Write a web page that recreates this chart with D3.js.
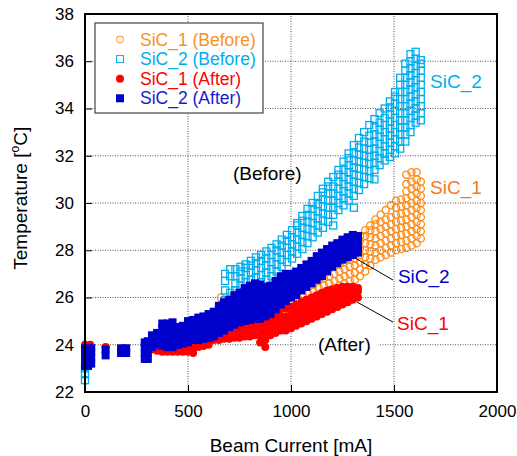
<!DOCTYPE html>
<html>
<head>
<meta charset="utf-8">
<script src="https://cdn.jsdelivr.net/npm/d3@7"></script>
<style>
  body { margin: 0; background: #fff; }
  text { font-family: "Liberation Sans", Arial, sans-serif; }
</style>
</head>
<body>
<div id="chart"></div>
<script>
// beam current [mA] columns and temperatures [degC]
const sic1BeforeI = [0, 660, 685, 710, 735, 760, 785, 810, 835, 860, 885, 910, 935, 960, 985, 1010, 1035, 1060, 1085, 1110, 1135, 1160, 1185, 1210, 1235, 1260, 1285, 1310, 1335, 1360, 1385, 1410, 1435, 1460, 1485, 1510, 1535, 1560, 1585, 1610, 1630];
const sic1BeforeT = [
  [23.2, 23.9],
  [25.0, 25.4, 25.7, 26.0],
  [24.9, 25.2, 25.5, 25.8],
  [24.9, 25.2, 25.5, 25.8, 26.0],
  [25.0, 25.3, 25.6, 25.9],
  [25.05, 25.35, 25.65, 25.95],
  [25.1, 25.4, 25.7, 26.0],
  [25.15, 25.45, 25.75, 26.0],
  [25.2, 25.5, 25.8, 26.1],
  [25.2, 25.5, 25.8, 26.15],
  [25.25, 25.55, 25.85, 26.2],
  [25.3, 25.6, 25.9, 26.3],
  [25.35, 25.65, 25.95, 26.3, 26.55],
  [25.4, 25.7, 26.0, 26.3, 26.6],
  [25.45, 25.75, 26.05, 26.35, 26.7],
  [25.55, 25.85, 26.15, 26.45, 26.8],
  [25.65, 25.95, 26.25, 26.55, 26.9],
  [25.75, 26.05, 26.35, 26.65, 26.95],
  [25.85, 26.15, 26.45, 26.75, 27.05],
  [25.95, 26.25, 26.55, 26.85, 27.2],
  [26.1, 26.4, 26.7, 27.0, 27.4],
  [26.2, 26.5, 26.8, 27.1, 27.5],
  [26.3, 26.6, 26.9, 27.2, 27.5, 27.7],
  [26.4, 26.7, 27.0, 27.3, 27.6, 27.9],
  [26.5, 26.8, 27.1, 27.4, 27.7, 28.0],
  [26.6, 26.9, 27.2, 27.5, 27.8, 28.1],
  [26.7, 27.0, 27.3, 27.6, 27.9, 28.3],
  [26.75, 27.05, 27.35, 27.65, 27.95, 28.25, 28.5],
  [26.9, 27.2, 27.5, 27.8, 28.1, 28.4, 28.6],
  [27.1, 27.4, 27.7, 28.0, 28.3, 28.6, 28.85],
  [27.35, 27.65, 27.95, 28.25, 28.55, 28.85, 29.05],
  [27.6, 27.9, 28.2, 28.5, 28.8, 29.1, 29.3],
  [27.7, 28.0, 28.3, 28.6, 28.9, 29.2, 29.5],
  [27.8, 28.1, 28.4, 28.7, 29.0, 29.3, 29.7],
  [27.9, 28.2, 28.5, 28.8, 29.1, 29.4, 29.9],
  [28.0, 28.3, 28.6, 28.9, 29.2, 29.5, 29.8, 30.1],
  [28.05, 28.35, 28.65, 28.95, 29.25, 29.55, 29.85, 30.15],
  [28.1, 28.4, 28.7, 29.0, 29.3, 29.6, 29.9, 30.2, 30.5, 30.8, 31.2],
  [28.2, 28.5, 28.8, 29.1, 29.4, 29.7, 30.0, 30.3, 30.6, 30.9, 31.3],
  [28.3, 28.6, 28.9, 29.2, 29.5, 29.8, 30.1, 30.4, 30.7, 31.0, 31.3],
  [28.5, 28.8, 29.1, 29.4, 29.7, 30.0, 30.3, 30.6, 30.9]
];

const sic2BeforeI = [0, 680, 705, 730, 755, 780, 805, 830, 855, 880, 905, 930, 955, 980, 1005, 1030, 1055, 1080, 1105, 1130, 1155, 1180, 1205, 1230, 1255, 1280, 1305, 1330, 1355, 1380, 1405, 1430, 1455, 1480, 1505, 1530, 1555, 1580, 1605, 1630];
const sic2BeforeT = [
  [22.5, 22.75, 23.0],
  [25.9, 26.3, 26.7, 27.0],
  [25.9, 26.2, 26.9, 27.2],
  [26.0, 26.3, 26.6, 26.9, 27.2],
  [26.2, 26.5, 26.8, 27.1, 27.3],
  [26.35, 26.65, 26.95, 27.25, 27.4],
  [26.45, 26.75, 27.05, 27.35, 27.55],
  [26.55, 26.85, 27.15, 27.45, 27.7],
  [26.65, 26.95, 27.25, 27.55, 27.8],
  [26.75, 27.05, 27.35, 27.65, 27.95],
  [26.9, 27.2, 27.5, 27.8, 28.1],
  [27.1, 27.4, 27.7, 28.0, 28.25],
  [27.3, 27.6, 27.9, 28.2, 28.45],
  [27.5, 27.8, 28.1, 28.4, 28.65],
  [27.65, 27.95, 28.25, 28.55, 28.85],
  [27.85, 28.15, 28.45, 28.75, 29.05, 29.15],
  [28.05, 28.35, 28.65, 28.95, 29.25, 29.45],
  [28.3, 28.6, 28.9, 29.2, 29.5, 29.75],
  [28.55, 28.85, 29.15, 29.45, 29.75, 30.0],
  [28.75, 29.05, 29.35, 29.65, 29.95, 30.3],
  [28.95, 29.25, 29.55, 29.85, 30.15, 30.45, 30.6],
  [29.2, 29.5, 29.8, 30.1, 30.4, 30.7, 30.9],
  [29.05, 29.5, 29.8, 30.1, 30.4, 30.7, 31.1],
  [29.7, 30.0, 30.3, 30.6, 30.9, 31.2, 31.4],
  [29.9, 30.2, 30.5, 30.8, 31.1, 31.4, 31.75],
  [30.1, 30.4, 30.7, 31.0, 31.3, 31.6, 31.9, 32.1],
  [29.8, 30.3, 30.6, 30.9, 31.2, 31.5, 31.8, 32.1, 32.45],
  [30.55, 30.85, 31.15, 31.45, 31.75, 32.05, 32.35, 32.75],
  [30.8, 31.1, 31.4, 31.7, 32.0, 32.3, 32.6, 33.0],
  [31.05, 31.35, 31.65, 31.95, 32.25, 32.55, 32.85, 33.3],
  [31.0, 31.4, 31.7, 32.0, 32.3, 32.6, 32.9, 33.2, 33.55],
  [31.6, 31.9, 32.2, 32.5, 32.8, 33.1, 33.4, 33.8],
  [31.8, 32.1, 32.4, 32.7, 33.0, 33.3, 33.6, 34.0],
  [31.95, 32.25, 32.55, 32.85, 33.15, 33.45, 33.75, 34.05, 34.3],
  [32.1, 32.4, 32.7, 33.0, 33.3, 33.6, 33.9, 34.2, 34.5, 34.7],
  [32.3, 32.6, 32.9, 33.2, 33.5, 33.8, 34.1, 34.4, 34.7, 35.0, 35.3],
  [32.6, 32.9, 33.2, 33.5, 33.8, 34.1, 34.4, 34.7, 35.0, 35.3, 35.6, 35.9],
  [33.0, 33.3, 33.6, 33.9, 34.2, 34.5, 34.8, 35.1, 35.4, 35.7, 36.0, 36.3],
  [33.4, 33.7, 34.0, 34.3, 34.6, 34.9, 35.2, 35.5, 35.8, 36.1, 36.4],
  [33.5, 33.8, 34.1, 34.4, 34.7, 35.0, 35.3, 35.6, 35.9, 36.05]
];

const sic1AfterI = [0, 25, 100, 300, 325, 350, 375, 400, 425, 450, 475, 500, 525, 550, 575, 600, 625, 650, 675, 700, 725, 750, 775, 800, 825, 850, 875, 900, 925, 950, 975, 1000, 1025, 1050, 1075, 1100, 1125, 1150, 1175, 1200, 1225, 1250, 1275, 1300, 1325];
const sic1AfterT = [
  [23.85, 24.0],
  [23.9, 24.0],
  [23.9],
  [23.8],
  [23.8],
  [23.75, 23.95],
  [23.7, 23.95, 24.1],
  [23.7, 23.95, 24.1],
  [23.7, 23.95, 24.1],
  [23.7, 23.95, 24.1],
  [23.7, 23.95, 24.1],
  [23.7, 23.95, 24.1],
  [23.65, 23.9],
  [23.9, 24.15],
  [23.95, 24.25],
  [24.0, 24.3],
  [24.2, 24.45],
  [24.2, 24.45, 24.65],
  [24.25, 24.5, 24.75],
  [24.25, 24.5, 24.8],
  [24.3, 24.55, 24.85],
  [24.3, 24.6, 24.9],
  [24.35, 24.65, 24.95],
  [24.35, 24.65, 24.95],
  [24.4, 24.7, 25.0],
  [24.1, 24.4, 24.7, 25.0],
  [23.9, 24.2, 24.5, 24.8, 25.0],
  [24.4, 24.7, 25.0, 25.3],
  [24.5, 24.8, 25.1, 25.4],
  [24.6, 24.9, 25.2, 25.5],
  [24.6, 24.9, 25.2, 25.55],
  [24.7, 25.0, 25.3, 25.6],
  [24.8, 25.1, 25.4, 25.7],
  [24.9, 25.2, 25.5, 25.8],
  [25.0, 25.3, 25.6, 25.9],
  [25.1, 25.4, 25.7, 26.0],
  [25.2, 25.5, 25.8, 26.1],
  [25.3, 25.6, 25.9, 26.2],
  [25.4, 25.7, 26.0, 26.3],
  [25.5, 25.8, 26.1, 26.35],
  [25.6, 25.9, 26.2, 26.4],
  [25.7, 26.0, 26.25, 26.45],
  [25.8, 26.05, 26.3, 26.45],
  [25.9, 26.1, 26.35, 26.45],
  [26.0, 26.25, 26.4]
];

const sic2AfterI = [0, 15, 30, 100, 175, 200, 290, 305, 325, 350, 375, 400, 425, 450, 475, 500, 525, 550, 575, 600, 625, 650, 675, 700, 725, 750, 775, 800, 825, 850, 875, 900, 925, 950, 975, 1000, 1025, 1050, 1075, 1100, 1125, 1150, 1175, 1200, 1225, 1250, 1275, 1300, 1325];
const sic2AfterT = [
  [23.1, 23.35, 23.6, 23.85],
  [23.1, 23.35, 23.6, 23.85],
  [23.2, 23.45, 23.7, 23.85],
  [23.55, 23.8],
  [23.65, 23.85],
  [23.65, 23.85],
  [23.4, 23.65, 23.9, 24.1],
  [23.4, 23.65, 23.9, 24.15],
  [23.9, 24.15, 24.4],
  [24.0, 24.25, 24.5],
  [23.95, 24.2, 24.45, 24.7, 24.9],
  [23.9, 24.15, 24.4, 24.65, 24.9],
  [23.9, 24.15, 24.4, 24.65, 24.95],
  [24.0, 24.25, 24.5, 24.75],
  [24.05, 24.3, 24.55, 24.8],
  [24.1, 24.35, 24.6, 24.85, 25.0],
  [24.2, 24.45, 24.7, 24.95, 25.05],
  [24.2, 24.45, 24.7, 24.95, 25.15],
  [24.25, 24.5, 24.75, 25.0, 25.2],
  [24.3, 24.55, 24.8, 25.05, 25.3],
  [24.35, 24.6, 24.85, 25.1, 25.4],
  [24.5, 24.75, 25.0, 25.25, 25.5, 25.65],
  [24.6, 24.85, 25.1, 25.35, 25.6, 25.8],
  [24.75, 25.0, 25.25, 25.5, 25.75, 25.9],
  [24.85, 25.1, 25.35, 25.6, 25.85, 26.1],
  [24.95, 25.2, 25.45, 25.7, 25.95, 26.2],
  [25.0, 25.25, 25.5, 25.75, 26.0, 26.25, 26.4],
  [25.05, 25.3, 25.55, 25.8, 26.05, 26.3, 26.5],
  [25.1, 25.35, 25.6, 25.85, 26.1, 26.35, 26.6],
  [25.1, 25.35, 25.6, 25.85, 26.1, 26.35, 26.55],
  [25.2, 25.45, 25.7, 25.95, 26.2, 26.45],
  [25.3, 25.55, 25.8, 26.05, 26.3, 26.5],
  [25.5, 25.75, 26.0, 26.25, 26.5, 26.7],
  [25.7, 25.95, 26.2, 26.45, 26.7, 26.9],
  [25.85, 26.1, 26.35, 26.6, 26.85, 27.0],
  [26.0, 26.25, 26.5, 26.75, 27.0],
  [26.1, 26.35, 26.6, 26.85, 27.1],
  [26.3, 26.55, 26.8, 27.05, 27.25],
  [26.45, 26.7, 26.95, 27.2, 27.4],
  [26.6, 26.85, 27.1, 27.35, 27.55],
  [26.75, 27.0, 27.25, 27.5, 27.75],
  [26.9, 27.15, 27.4, 27.65, 27.9],
  [27.1, 27.35, 27.6, 27.85, 28.05],
  [27.3, 27.55, 27.8, 28.05, 28.2],
  [27.45, 27.7, 27.95, 28.2, 28.3],
  [27.6, 27.85, 28.1, 28.35, 28.45],
  [27.7, 27.95, 28.2, 28.45, 28.55],
  [27.8, 28.05, 28.3, 28.55, 28.65],
  [27.9, 28.15, 28.4, 28.6]
];

const xTicks = [0, 500, 1000, 1500, 2000];
const yTicks = [22, 24, 26, 28, 30, 32, 34, 36, 38];

const seriesNames = ["SiC_1 (Before)", "SiC_2 (Before)", "SiC_1 (After)", "SiC_2 (After)"];
const seriesColors = ["#FF8C1A", "#00AEEF", "#FF0000", "#0000CC"];

document.addEventListener("DOMContentLoaded", setup);

function points(currents, temps) {
  return currents.flatMap((c, i) => temps[i].map(t => [c, t]));
}

function setup() {
  const width = 517, height = 456;
  const margin = {top: 14, right: 20, bottom: 64, left: 85};

  const svg = d3.select("#chart").append("svg")
      .attr("width", width)
      .attr("height", height);

  const x = d3.scaleLinear().domain([0, 2000]).range([margin.left, width - margin.right]);
  const y = d3.scaleLinear().domain([22, 38]).range([height - margin.bottom, margin.top]);

  // dotted grid
  const grid = svg.append("g");
  grid.selectAll("line.v")
      .data(xTicks.slice(1, -1))
      .enter().append("line")
      .attr("x1", d => x(d)).attr("x2", d => x(d))
      .attr("y1", y(22)).attr("y2", y(38))
      .attr("stroke", "#555").attr("stroke-dasharray", "1,1.5");
  grid.selectAll("line.h")
      .data(yTicks.slice(1, -1))
      .enter().append("line")
      .attr("x1", x(0)).attr("x2", x(2000))
      .attr("y1", d => y(d)).attr("y2", d => y(d))
      .attr("stroke", "#555").attr("stroke-dasharray", "1,1.5");

  // axes with inward ticks
  svg.append("g")
      .attr("transform", `translate(0,${y(22)})`)
      .call(d3.axisBottom(x).tickValues(xTicks).tickFormat(d3.format("d")).tickSize(-7).tickPadding(13))
      .call(g => g.select(".domain").remove())
      .call(g => g.selectAll("text").attr("font-size", 17).attr("fill", "#000").style("font-family", "Liberation Sans, Arial"));
  svg.append("g")
      .attr("transform", `translate(${x(0)},0)`)
      .call(d3.axisLeft(y).tickValues(yTicks).tickSize(-7).tickPadding(11))
      .call(g => g.select(".domain").remove())
      .call(g => g.selectAll("text").attr("font-size", 17).attr("fill", "#000").style("font-family", "Liberation Sans, Arial"));

  // data
  const plot = svg.append("g");
  const s = 7;
  plot.selectAll("circle.s1b")
      .data(points(sic1BeforeI, sic1BeforeT))
      .enter().append("circle")
      .attr("cx", d => x(d[0])).attr("cy", d => y(d[1])).attr("r", 3.6)
      .attr("fill", "none").attr("stroke", seriesColors[0]).attr("stroke-width", 1.3);
  plot.selectAll("rect.s2b")
      .data(points(sic2BeforeI, sic2BeforeT))
      .enter().append("rect")
      .attr("x", d => x(d[0]) - s / 2).attr("y", d => y(d[1]) - s / 2)
      .attr("width", s).attr("height", s)
      .attr("fill", "none").attr("stroke", seriesColors[1]).attr("stroke-width", 1.3);
  plot.selectAll("circle.s1a")
      .data(points(sic1AfterI, sic1AfterT))
      .enter().append("circle")
      .attr("cx", d => x(d[0])).attr("cy", d => y(d[1])).attr("r", 4)
      .attr("fill", seriesColors[2]);
  plot.selectAll("rect.s2a")
      .data(points(sic2AfterI, sic2AfterT))
      .enter().append("rect")
      .attr("x", d => x(d[0]) - 4).attr("y", d => y(d[1]) - 4)
      .attr("width", 8).attr("height", 8)
      .attr("fill", seriesColors[3]);

  // frame
  svg.append("rect")
      .attr("x", x(0)).attr("y", y(38))
      .attr("width", x(2000) - x(0)).attr("height", y(22) - y(38))
      .attr("fill", "none").attr("stroke", "#000").attr("stroke-width", 2);

  // annotations
  const ann = svg.append("g").attr("font-size", 19);
  ann.append("rect")
      .attr("x", x(1125)).attr("y", y(24) - 9).attr("width", 62).attr("height", 20)
      .attr("fill", "#fff");
  ann.append("text").attr("x", x(1675)).attr("y", y(34.87)).attr("fill", "#00AEEF").text("SiC_2");
  ann.append("text").attr("x", x(1675)).attr("y", y(30.38)).attr("fill", "#F47A20").text("SiC_1");
  ann.append("text").attr("x", x(718)).attr("y", y(30.97)).attr("fill", "#000").text("(Before)");
  ann.append("text").attr("x", x(1519)).attr("y", y(26.61)).attr("fill", "#0000CC").text("SiC_2");
  ann.append("text").attr("x", x(1515)).attr("y", y(24.62)).attr("fill", "#FF0000").text("SiC_1");
  ann.append("text").attr("x", x(1131)).attr("y", y(23.74)).attr("fill", "#000").text("(After)");
  ann.append("line")
      .attr("x1", x(1311)).attr("y1", y(27.67)).attr("x2", x(1495)).attr("y2", y(26.74))
      .attr("stroke", "#000");
  ann.append("line")
      .attr("x1", x(1320)).attr("y1", y(25.81)).attr("x2", x(1495)).attr("y2", y(24.96))
      .attr("stroke", "#000");

  // legend
  const legend = svg.append("g");
  legend.append("rect")
      .attr("x", 95).attr("y", 23).attr("width", 168).attr("height", 90)
      .attr("fill", "#fff").attr("stroke", "#444").attr("stroke-width", 1.2);
  const rows = legend.selectAll("g.row")
      .data(seriesNames)
      .enter().append("g")
      .attr("transform", (d, i) => `translate(120,${39.5 + i * 19.6})`);
  rows.each(function(d, i) {
    const g = d3.select(this);
    if (i === 0) g.append("circle").attr("r", 3.5).attr("fill", "none").attr("stroke", seriesColors[0]);
    if (i === 1) g.append("rect").attr("x", -3.5).attr("y", -3.5).attr("width", 7).attr("height", 7).attr("fill", "none").attr("stroke", seriesColors[1]);
    if (i === 2) g.append("circle").attr("r", 4).attr("fill", seriesColors[2]);
    if (i === 3) g.append("rect").attr("x", -4).attr("y", -4).attr("width", 8).attr("height", 8).attr("fill", seriesColors[3]);
  });
  rows.append("text")
      .attr("x", 20).attr("y", 6)
      .attr("font-size", 17.5)
      .attr("fill", (d, i) => ["#F7941D", "#00AEEF", "#FF0000", "#1A1ACC"][i])
      .text(d => d);

  // axis titles
  svg.append("text")
      .attr("x", (x(0) + x(2000)) / 2).attr("y", 452)
      .attr("text-anchor", "middle").attr("font-size", 19)
      .text("Beam Current [mA]");
  const yt = svg.append("text")
      .attr("transform", `translate(27,${y(30.2)}) rotate(-90)`)
      .attr("text-anchor", "middle").attr("font-size", 19);
  yt.append("tspan").text("Temperature [");
  yt.append("tspan").attr("font-size", 12).attr("dy", -8).text("o");
  yt.append("tspan").attr("dy", 8).text("C]");
}
</script>
</body>
</html>
